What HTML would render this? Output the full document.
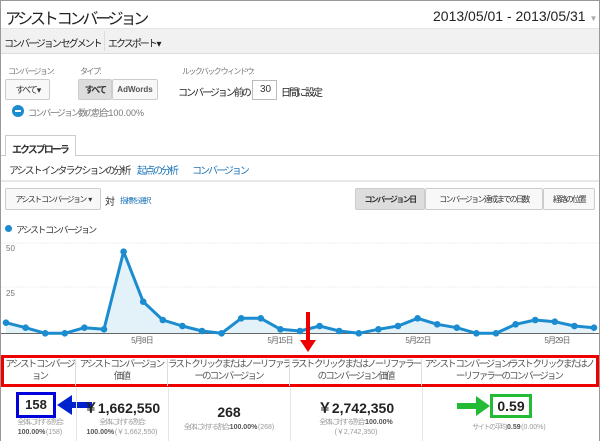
<!DOCTYPE html>
<html><head><meta charset="utf-8"><style>
*{margin:0;padding:0;box-sizing:border-box;letter-spacing:-0.2em}
body{width:600px;height:441px;position:relative;background:#fff;font-family:"Liberation Sans","Noto Sans CJK JP",sans-serif;color:#333;overflow:hidden}
.n,.n *,svg *,b,i{letter-spacing:0}
svg .xl{letter-spacing:-0.1em}
.a{position:absolute;white-space:nowrap}
.btn{position:absolute;border:1px solid #ccc;border-radius:2px;background:#f8f8f8;font-size:9px;display:flex;align-items:center;justify-content:center;white-space:nowrap}
.th{position:absolute;top:359px;height:27px;font-size:9.5px;color:#555;text-align:center;line-height:12px;border-right:1px solid #ddd;white-space:nowrap;overflow:hidden}
.v{position:absolute;font-size:14px;font-weight:bold;color:#222;text-align:center;letter-spacing:0}
.s{position:absolute;font-size:7px;color:#999;text-align:center;line-height:10px;white-space:nowrap}
.s b{color:#555}
.s i{font-style:normal}
</style></head><body>
<div class="a" style="left:0;top:0;width:600px;height:441px;border:1px solid #999;border-bottom:none"></div>
<div class="a" style="left:5px;top:5px;font-size:16px;color:#222">アシスト コンバージョン</div>
<div class="a n" style="left:433px;top:8px;font-size:14px;color:#222">2013/05/01 - 2013/05/31 <span style="font-size:8px;color:#aaa">▼</span></div>
<div class="a" style="left:1px;top:28px;width:598px;height:26px;background:#f1f1f1;border-top:1px solid #e5e5e5;border-bottom:1px solid #ddd"></div>
<div class="a" style="left:4px;top:35px;font-size:10px;color:#222">コンバージョン セグメント</div>
<div class="a" style="left:104px;top:31px;width:1px;height:20px;background:#ddd"></div>
<div class="a" style="left:108px;top:35px;font-size:10px;color:#222">エクスポート ▾</div>
<div class="a" style="left:8px;top:66px;font-size:8px;color:#777">コンバージョン:</div>
<div class="a" style="left:80px;top:66px;font-size:8px;color:#777">タイプ:</div>
<div class="a" style="left:182px;top:66px;font-size:8px;color:#777">ルックバック ウィンドウ:</div>
<div class="btn" style="left:5px;top:79px;width:45px;height:21px">すべて ▾</div>
<div class="btn" style="left:78px;top:79px;width:34px;height:21px;background:#ddd;font-weight:bold">すべて</div>
<div class="btn n" style="left:112px;top:79px;width:46px;height:21px;font-weight:bold;color:#555;font-size:8px">AdWords</div>
<div class="a" style="left:178px;top:84px;font-size:10px;color:#222">コンバージョン前の</div>
<div class="a n" style="left:252px;top:80px;width:25px;height:20px;border:1px solid #bbb;font-size:10px;padding:3px 0 0 7px">30</div>
<div class="a" style="left:281px;top:84px;font-size:10px;color:#222">日間に設定</div>
<div class="a" style="left:12px;top:105px;width:12px;height:12px;border-radius:50%;background:#1a8ccf"></div>
<div class="a" style="left:15px;top:110px;width:6px;height:2px;background:#fff"></div>
<div class="a" style="left:28px;top:106px;font-size:9px;color:#777">コンバージョン数の割合: <span class="n">100.00%</span></div>
<div class="a" style="left:1px;top:155px;width:598px;height:1px;background:#ccc"></div>
<div class="a" style="left:5px;top:135px;width:71px;height:21px;border:1px solid #ccc;border-bottom:none;background:#fff;font-size:10px;font-weight:bold;padding:5px 0 0 6px">エクスプローラ</div>
<div class="a" style="left:9px;top:162px;font-size:10px;color:#333">アシスト インタラクションの分析</div>
<div class="a" style="left:137px;top:162px;font-size:10px;color:#1a73b8">起点の分析</div>
<div class="a" style="left:192px;top:162px;font-size:10px;color:#1a73b8">コンバージョン</div>
<div class="a" style="left:1px;top:180px;width:598px;height:2px;background:#e8e8e8"></div>
<div class="btn" style="left:5px;top:188px;width:96px;height:22px;font-size:8px">アシスト コンバージョン&nbsp;&nbsp;&nbsp; ▾</div>
<div class="a" style="left:105px;top:193px;font-size:10px">対</div>
<div class="a" style="left:120px;top:195px;font-size:7.5px;color:#1a73b8">指標を選択</div>
<div class="btn" style="left:355px;top:188px;width:70px;height:22px;background:#ddd;font-size:8px;font-weight:bold">コンバージョン日</div>
<div class="btn" style="left:425px;top:188px;width:118px;height:22px;font-size:8px">コンバージョン達成までの日数</div>
<div class="btn" style="left:543px;top:188px;width:52px;height:22px;font-size:8px">経路の位置</div>
<div class="a" style="left:5px;top:225px;width:7px;height:7px;border-radius:50%;background:#1a8ccf"></div>
<div class="a" style="left:16px;top:223px;font-size:9px;color:#333">アシスト コンバージョン</div>
<svg class="a" style="left:0;top:0" width="600" height="441">
<line x1="1" y1="243" x2="599" y2="243" stroke="#eee" stroke-dasharray="2,1"/>
<line x1="1" y1="287" x2="599" y2="287" stroke="#eee" stroke-dasharray="2,1"/>
<text x="6" y="251" font-size="8" fill="#777" font-family="Liberation Sans">50</text>
<text x="6" y="296" font-size="8" fill="#777" font-family="Liberation Sans">25</text>
<polygon fill="#e3f1f9" points="6,333.3 6,322.7 25.6,327.7 45.2,333.3 64.8,333.3 84.4,327.7 104,329.3 123.6,251.7 143.2,301.7 162.8,320 182.4,326 202,331 221.6,333.3 241.2,318.3 260.8,318.3 280.4,329.3 300,331 319.6,326 339.2,331 358.8,333.3 378.4,329.3 398,326 417.6,318.3 437.2,324.3 456.8,327.7 476.4,333.3 496,333.3 515.6,324.3 535.2,320 554.8,321.7 574.4,326 594,327.7 594,333.3"/>
<line x1="1" y1="333.5" x2="599" y2="333.5" stroke="#666"/>
<polyline fill="none" stroke="#1a8ccf" stroke-width="3" stroke-linejoin="round" points="6,322.7 25.6,327.7 45.2,333.3 64.8,333.3 84.4,327.7 104,329.3 123.6,251.7 143.2,301.7 162.8,320 182.4,326 202,331 221.6,333.3 241.2,318.3 260.8,318.3 280.4,329.3 300,331 319.6,326 339.2,331 358.8,333.3 378.4,329.3 398,326 417.6,318.3 437.2,324.3 456.8,327.7 476.4,333.3 496,333.3 515.6,324.3 535.2,320 554.8,321.7 574.4,326 594,327.7"/>
<g fill="#1a8ccf">
<circle cx="6" cy="322.7" r="3.3"/><circle cx="25.6" cy="327.7" r="3.3"/><circle cx="45.2" cy="333.3" r="3.3"/><circle cx="64.8" cy="333.3" r="3.3"/><circle cx="84.4" cy="327.7" r="3.3"/><circle cx="104" cy="329.3" r="3.3"/><circle cx="123.6" cy="251.7" r="3.3"/><circle cx="143.2" cy="301.7" r="3.3"/><circle cx="162.8" cy="320" r="3.3"/><circle cx="182.4" cy="326" r="3.3"/><circle cx="202" cy="331" r="3.3"/><circle cx="221.6" cy="333.3" r="3.3"/><circle cx="241.2" cy="318.3" r="3.3"/><circle cx="260.8" cy="318.3" r="3.3"/><circle cx="280.4" cy="329.3" r="3.3"/><circle cx="300" cy="331" r="3.3"/><circle cx="319.6" cy="326" r="3.3"/><circle cx="339.2" cy="331" r="3.3"/><circle cx="358.8" cy="333.3" r="3.3"/><circle cx="378.4" cy="329.3" r="3.3"/><circle cx="398" cy="326" r="3.3"/><circle cx="417.6" cy="318.3" r="3.3"/><circle cx="437.2" cy="324.3" r="3.3"/><circle cx="456.8" cy="327.7" r="3.3"/><circle cx="476.4" cy="333.3" r="3.3"/><circle cx="496" cy="333.3" r="3.3"/><circle cx="515.6" cy="324.3" r="3.3"/><circle cx="535.2" cy="320" r="3.3"/><circle cx="554.8" cy="321.7" r="3.3"/><circle cx="574.4" cy="326" r="3.3"/><circle cx="594" cy="327.7" r="3.3"/>
</g>
<g font-size="8" fill="#666" font-family="Liberation Sans,Noto Sans CJK JP" text-anchor="middle">
<text class="xl" x="142" y="343">5月8日</text><text class="xl" x="280" y="343">5月15日</text><text class="xl" x="418" y="343">5月22日</text><text class="xl" x="557" y="343">5月29日</text>
</g>
<rect x="306" y="312" width="4" height="30" fill="#e00"/>
<polygon points="300,340 316,340 308,352" fill="#e00"/>
<rect x="2.5" y="356.5" width="595" height="29" fill="none" stroke="#e00" stroke-width="3"/>
<rect x="17.5" y="393.5" width="37" height="23" fill="none" stroke="#0000dd" stroke-width="3"/>
<rect x="70" y="402" width="22" height="6" fill="#0022cc"/>
<polygon points="57,405 72,395 72,415" fill="#0022cc"/>
<rect x="457" y="403" width="21" height="6" fill="#22bb33"/>
<polygon points="490,406 476,396 476,416" fill="#22bb33"/>
<rect x="491.5" y="395.5" width="39" height="21" fill="none" stroke="#22bb33" stroke-width="3"/>
</svg>
<div class="th" style="left:4px;width:72px">アシスト コンバージ<br>ョン</div>
<div class="th" style="left:76px;width:92px">アシスト コンバージョン<br>価値</div>
<div class="th" style="left:168px;width:122px">ラスト クリックまたはノーリファラ<br>ーのコンバージョン</div>
<div class="th" style="left:290px;width:132px">ラスト クリックまたはノーリファラー<br>のコンバージョン価値</div>
<div class="th" style="left:422px;width:174px;border:none">アシスト コンバージョン/ラスト クリックまたはノ<br>ーリファラーのコンバージョン</div>
<div class="a" style="left:76px;top:388px;width:1px;height:53px;background:#e5e5e5"></div>
<div class="a" style="left:168px;top:388px;width:1px;height:53px;background:#e5e5e5"></div>
<div class="a" style="left:290px;top:388px;width:1px;height:53px;background:#e5e5e5"></div>
<div class="a" style="left:422px;top:388px;width:1px;height:53px;background:#e5e5e5"></div>
<div class="v" style="left:17px;top:397px;width:38px;font-size:13px">158</div>
<div class="s" style="left:4px;top:418px;width:72px">全体に対する割合:<br><b>100.00%</b> <i>(158)</i></div>
<div class="v" style="left:76px;top:398px;width:92px">￥1,662,550</div>
<div class="s" style="left:76px;top:418px;width:92px">全体に対する割合:<br><b>100.00%</b> <i>(￥1,662,550)</i></div>
<div class="v" style="left:168px;top:404px;width:122px">268</div>
<div class="s" style="left:168px;top:423px;width:122px">全体に対する割合: <b>100.00%</b> <i>(268)</i></div>
<div class="v" style="left:290px;top:398px;width:132px">￥2,742,350</div>
<div class="s" style="left:290px;top:418px;width:132px">全体に対する割合: <b>100.00%</b><br><i>(￥2,742,350)</i></div>
<div class="v" style="left:491px;top:398px;width:40px">0.59</div>
<div class="s" style="left:422px;top:423px;width:174px">サイトの平均: <b>0.59</b> <i>(0.00%)</i></div>
</body></html>
